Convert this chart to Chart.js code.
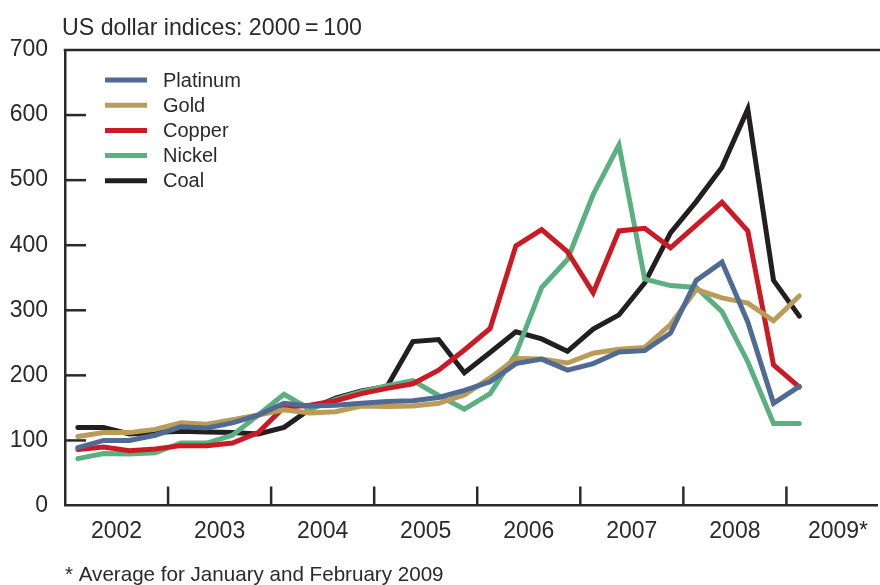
<!DOCTYPE html>
<html><head><meta charset="utf-8">
<script src="https://cdn.jsdelivr.net/npm/chart.js@4.4.1/dist/chart.umd.min.js"></script>
<style>html,body{margin:0;padding:0;background:#fff}canvas{display:block}</style>
</head><body>
<canvas id="c" width="880" height="585"></canvas>
<script>
// Categories: years (quarterly observations, last = Jan–Feb 2009 average)
const years = ['2002','2003','2004','2005','2006','2007','2008','2009*'];
const yTicks = [0,100,200,300,400,500,600,700];

// Series values (US dollar indices, 2000 = 100), quarterly 2002Q1 … 2008Q4, then 2009*
const platinum = [89,100,100,108,121,119,127,139,157,153,154,157,160,161,166,177,190,218,225,208,218,236,238,265,346,374,282,157,183];
const gold     = [106,112,112,117,127,125,132,139,147,142,144,153,152,153,157,170,196,226,225,219,234,240,243,278,332,319,311,284,322];
const copper   = [86,90,84,87,92,92,96,112,151,154,161,172,180,187,208,239,272,399,424,390,327,422,426,396,431,466,422,216,182];
const nickel   = [72,80,79,81,96,96,108,139,171,148,163,175,184,192,169,148,172,233,335,378,478,554,348,338,335,298,221,126,126];
const coal     = [120,120,110,112,114,113,112,110,120,148,165,176,183,252,255,204,235,267,256,237,271,293,342,419,467,520,609,346,291];

const seriesNames = ['Platinum','Gold','Copper','Nickel','Coal'];
const seriesData = [platinum, gold, copper, nickel, coal];
const colors = ['#4f6a93','#bb9b58','#cc1a24','#5bb080','#231f20'];

const titleText = 'US dollar indices: 2000\u2009=\u2009100';
const footnote = '* Average for January and February 2009';

const FONT = '"Liberation Sans", Arial, Helvetica, sans-serif';
const INK = '#2a2a2a';

const toXY = arr => arr.map((v, i) => ({x: i + 0.5, y: v}));

const decor = {
  id: 'decor',
  beforeDatasetsDraw(chart) {
    const {ctx, chartArea: a, scales: {x, y}} = chart;
    ctx.save();
    ctx.strokeStyle = INK;
    ctx.lineWidth = 2.5;
    ctx.lineCap = 'butt';
    // top frame line
    ctx.beginPath(); ctx.moveTo(a.left - 1.25, a.top); ctx.lineTo(chart.width, a.top); ctx.stroke();
    // inward y tick marks
    yTicks.forEach(v => {
      if (v === 0 || v === 700) return;
      const py = y.getPixelForValue(v);
      ctx.beginPath(); ctx.moveTo(a.left, py); ctx.lineTo(a.left + 21, py); ctx.stroke();
    });
    // upward x tick marks at year boundaries
    for (let k = 1; k < years.length; k++) {
      const px = x.getPixelForValue(4 * k);
      ctx.beginPath(); ctx.moveTo(px, a.bottom); ctx.lineTo(px, a.bottom - 19); ctx.stroke();
    }
    // legend
    ctx.font = '20px ' + FONT;
    ctx.textBaseline = 'middle';
    ctx.textAlign = 'left';
    chart.data.datasets.forEach((ds, i) => {
      const cy = 80 + i * 25.2;
      ctx.strokeStyle = ds.borderColor;
      ctx.lineWidth = 5;
      ctx.beginPath(); ctx.moveTo(105, cy); ctx.lineTo(147, cy); ctx.stroke();
      ctx.fillStyle = INK;
      ctx.fillText(ds.label, 163, cy + 1);
    });
    ctx.restore();
  },
  afterDraw(chart) {
    const {ctx} = chart;
    ctx.save();
    ctx.fillStyle = INK;
    ctx.textBaseline = 'alphabetic';
    ctx.textAlign = 'left';
    ctx.font = '23.2px ' + FONT;
    ctx.fillText(titleText, 62, 35);
    ctx.font = '20.6px ' + FONT;
    ctx.fillText(footnote, 65, 581);
    ctx.restore();
  }
};

new Chart(document.getElementById('c'), {
  type: 'line',
  data: {
    datasets: seriesNames.map((name, i) => ({
      label: name,
      data: toXY(seriesData[i]),
      borderColor: colors[i],
      backgroundColor: colors[i],
      borderWidth: 5,
      pointRadius: 0,
      tension: 0,
      fill: false,
      borderJoinStyle: 'miter',
      borderCapStyle: 'round'
    }))
  },
  options: {
    responsive: false,
    animation: false,
    events: [],
    layout: {padding: {top: 50, right: 0, left: 0, bottom: 0}},
    plugins: {legend: {display: false}, title: {display: false}, tooltip: {enabled: false}},
    scales: {
      x: {
        type: 'linear',
        min: 0,
        max: 31.55,
        grid: {display: false, drawTicks: false},
        border: {display: true, color: INK, width: 2.5},
        afterBuildTicks: axis => { axis.ticks = years.map((_, k) => ({value: 2 + 4 * k})); },
        afterFit: axis => { axis.height = 79.5; },
        ticks: {
          autoSkip: false,
          maxRotation: 0,
          padding: 12,
          color: INK,
          font: {family: FONT, size: 23},
          callback: v => years[Math.round((v - 2) / 4)]
        }
      },
      y: {
        min: 0,
        max: 700,
        grid: {display: false, drawTicks: false},
        border: {display: true, color: INK, width: 2.5},
        afterBuildTicks: axis => { axis.ticks = yTicks.map(v => ({value: v})); },
        afterFit: axis => { axis.width = 65; },
        ticks: {
          padding: 17,
          color: INK,
          font: {family: FONT, size: 23}
        }
      }
    }
  },
  plugins: [decor]
});
</script>
</body></html>
